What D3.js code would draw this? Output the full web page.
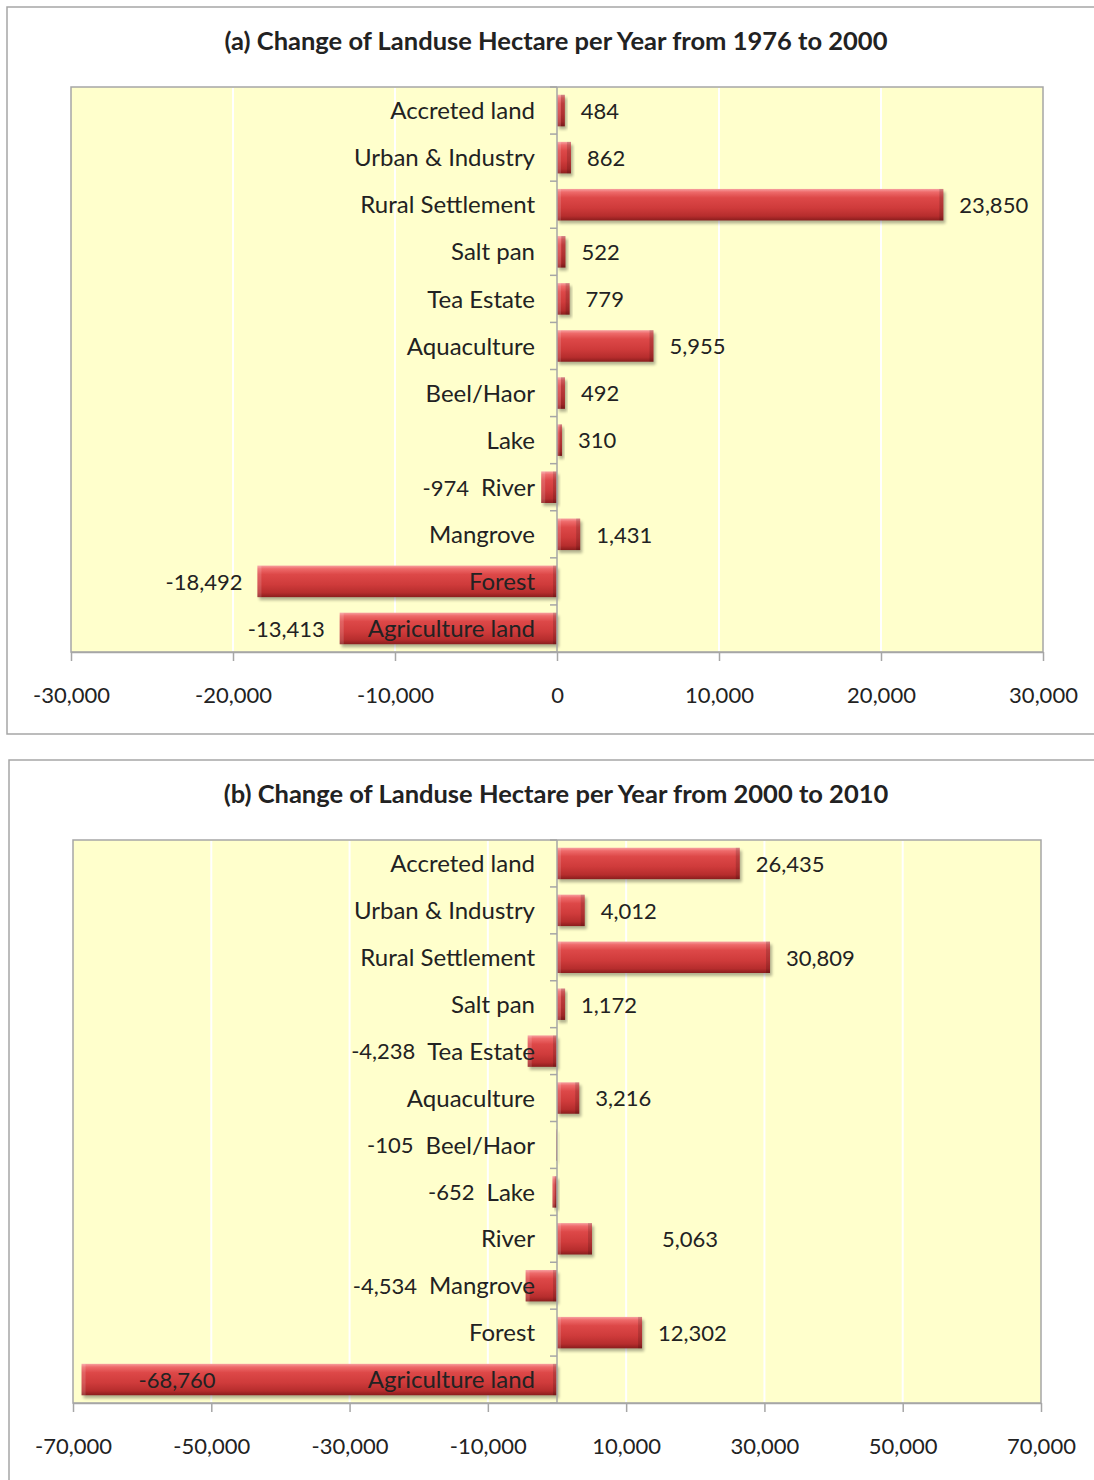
<!DOCTYPE html>
<html>
<head>
<meta charset="utf-8">
<script src="https://cdn.jsdelivr.net/npm/d3@7"></script>
<style>
  body { margin: 0; background: #fff; }
  svg text { font-family: Lato, 'Open Sans', sans-serif; fill: #222; }
</style>
</head>
<body>
<svg id="chart" width="1094" height="1480"></svg>
<script>

var categories = ['Accreted land', 'Urban & Industry', 'Rural Settlement', 'Salt pan', 'Tea Estate',
  'Aquaculture', 'Beel/Haor', 'Lake', 'River', 'Mangrove', 'Forest', 'Agriculture land']

var values1976to2000 = [484, 862, 23850, 522, 779, 5955, 492, 310, -974, 1431, -18492, -13413]
var values2000to2010 = [26435, 4012, 30809, 1172, -4238, 3216, -105, -652, 5063, -4534, 12302, -68760]

var ticks1976to2000 = [-30000, -20000, -10000, 0, 10000, 20000, 30000]
var ticks2000to2010 = [-70000, -50000, -30000, -10000, 10000, 30000, 50000, 70000]


var fmt = d3.formatLocale({decimal: '.', thousands: ',', grouping: [3], currency: ['', ''], minus: '-'}).format(',')

var svg = d3.select('#chart')
var defs = svg.append('defs')

var grad = defs.append('linearGradient').attr('id', 'barGrad')
  .attr('x1', 0).attr('y1', 0).attr('x2', 0).attr('y2', 1)
;[[0, '#f7a0a0'], [0.1, '#ee6a6a'], [0.28, '#dd4848'], [0.6, '#cf3b3b'], [0.86, '#b62d2d'], [1, '#8a1d1d']]
  .forEach(d => grad.append('stop').attr('offset', d[0]).attr('stop-color', d[1]))

defs.append('filter').attr('id', 'shadow').attr('x', '-10%').attr('y', '-30%').attr('width', '120%').attr('height', '160%')
  .append('feGaussianBlur').attr('stdDeviation', 1.6)

var gray = '#a6a6a6'
var catSize = 24
var numSize = 22

// label nudges that were hand-placed in the original
var nudges = {b: {River: 54}}

function drawPanel(p){
  var g = svg.append('g')

  g.append('rect')
    .attr('x', p.frame[0]).attr('y', p.frame[1]).attr('width', p.frame[2]).attr('height', p.frame[3])
    .attr('fill', '#fff').attr('stroke', gray).attr('stroke-width', 1.5)

  g.append('text')
    .attr('x', 556).attr('y', p.titleY)
    .attr('text-anchor', 'middle')
    .style('font-size', '25.5px').style('font-weight', 'bold')
    .text(p.title)

  var x = d3.scaleLinear().domain(p.domain).range([p.plot.x0, p.plot.x1])
  var y = d3.scaleBand().domain(categories).range([p.plot.y0, p.plot.y1])
    .paddingInner(0.33).paddingOuter(0.165)
  var step = y.step()

  g.append('rect')
    .attr('x', p.plot.x0).attr('y', p.plot.y0)
    .attr('width', p.plot.x1 - p.plot.x0).attr('height', p.plot.y1 - p.plot.y0)
    .attr('fill', '#ffffcc').attr('stroke', gray).attr('stroke-width', 1.5)

  g.selectAll('line.grid')
    .data(p.ticks.filter(t => t != 0 && t > p.domain[0] && t < p.domain[1]))
    .join('line').attr('class', 'grid')
    .attr('x1', d => x(d)).attr('x2', d => x(d))
    .attr('y1', p.plot.y0 + 1).attr('y2', p.plot.y1 - 1)
    .attr('stroke', '#fff').attr('stroke-width', 2)

  var axis = g.append('g')
    .attr('transform', `translate(0,${p.plot.y1})`)
    .call(d3.axisBottom(x).tickValues(p.ticks).tickFormat(fmt).tickSize(9).tickSizeOuter(0).tickPadding(26))
  axis.select('.domain').attr('stroke', gray).attr('stroke-width', 1.5)
  axis.selectAll('.tick line').attr('stroke', gray).attr('stroke-width', 1.5)
  axis.selectAll('.tick text')
    .style('font-size', numSize + 'px').style('font-family', 'Lato, sans-serif').attr('fill', '#222')

  // bars
  var rows = categories.map((c, i) => ({cat: c, val: p.values[i]}))
  var barSel = g.selectAll('g.bar').data(rows).join('g').attr('class', 'bar')

  barSel.append('rect')
    .attr('x', d => x(Math.min(0, d.val)) + 2).attr('y', d => y(d.cat) + 3)
    .attr('width', d => Math.abs(x(d.val) - x(0))).attr('height', y.bandwidth())
    .attr('fill', '#000').attr('opacity', 0.3).attr('filter', 'url(#shadow)')

  barSel.append('rect')
    .attr('x', d => x(Math.min(0, d.val))).attr('y', d => y(d.cat))
    .attr('width', d => Math.abs(x(d.val) - x(0))).attr('height', y.bandwidth())
    .attr('fill', 'url(#barGrad)')

  // bevelled ends
  barSel.append('rect')
    .attr('x', d => x(Math.min(0, d.val))).attr('y', d => y(d.cat))
    .attr('width', d => Math.min(4, Math.abs(x(d.val) - x(0)) / 2)).attr('height', y.bandwidth())
    .attr('fill', '#fff').attr('opacity', 0.15)
  barSel.append('rect')
    .attr('x', d => x(Math.max(0, d.val)) - Math.min(4, Math.abs(x(d.val) - x(0)) / 2)).attr('y', d => y(d.cat))
    .attr('width', d => Math.min(4, Math.abs(x(d.val) - x(0)) / 2)).attr('height', y.bandwidth())
    .attr('fill', '#000').attr('opacity', 0.15)

  // category axis at zero
  g.append('line')
    .attr('x1', x(0)).attr('x2', x(0)).attr('y1', p.plot.y0).attr('y2', p.plot.y1)
    .attr('stroke', gray).attr('stroke-width', 1.5)
  g.selectAll('line.cattick')
    .data(d3.range(categories.length + 1))
    .join('line').attr('class', 'cattick')
    .attr('x1', x(0) - 7).attr('x2', x(0))
    .attr('y1', i => p.plot.y0 + i * step).attr('y2', i => p.plot.y0 + i * step)
    .attr('stroke', gray).attr('stroke-width', 1.5)

  var catX = x(0) - 22
  var catSel = g.selectAll('text.cat').data(rows).join('text').attr('class', 'cat')
    .attr('x', catX).attr('y', d => y(d.cat) + y.bandwidth() / 2)
    .attr('dy', '0.36em').attr('text-anchor', 'end')
    .style('font-size', catSize + 'px')
    .text(d => d.cat)
  catSel.each(function(d){ d.catLeft = catX - this.getComputedTextLength() })

  var valSel = g.selectAll('text.val').data(rows).join('text').attr('class', 'val')
    .attr('y', d => y(d.cat) + y.bandwidth() / 2)
    .attr('dy', '0.38em')
    .style('font-size', numSize + 'px')
    .text(d => fmt(d.val))

  valSel.each(function(d){
    var sel = d3.select(this)
    var nudge = (nudges[p.key] || {})[d.cat] || 0
    if (d.val >= 0){
      sel.attr('x', x(d.val) + 16 + nudge).attr('text-anchor', 'start')
      return
    }
    var w = this.getComputedTextLength()
    var end = x(d.val) - 15
    if (end - w < p.plot.x0){
      sel.attr('x', x(d.val) + 57).attr('text-anchor', 'start')
    } else if (end > d.catLeft - 8){
      sel.attr('x', d.catLeft - 12).attr('text-anchor', 'end')
    } else {
      sel.attr('x', end).attr('text-anchor', 'end')
    }
  })
}

drawPanel({
  key: 'a',
  title: '(a) Change of Landuse Hectare per Year from 1976 to 2000',
  titleY: 50,
  frame: [7, 7, 1100, 727],
  plot: {x0: 71, x1: 1043, y0: 87, y1: 652},
  domain: [-30000, 30000],
  ticks: ticks1976to2000,
  values: values1976to2000
})

drawPanel({
  key: 'b',
  title: '(b) Change of Landuse Hectare per Year from 2000 to 2010',
  titleY: 803,
  frame: [9, 760, 1100, 740],
  plot: {x0: 73, x1: 1041, y0: 840, y1: 1403},
  domain: [-70000, 70000],
  ticks: ticks2000to2010,
  values: values2000to2010
})

</script>
</body>
</html>
